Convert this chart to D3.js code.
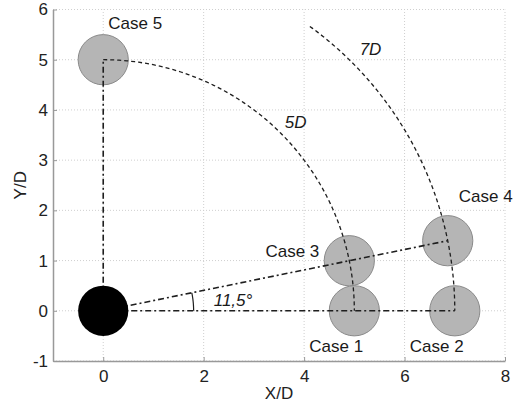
<!DOCTYPE html>
<html><head><meta charset="utf-8">
<script src="https://cdn.jsdelivr.net/npm/d3@7/dist/d3.min.js"></script>
<style>
html,body{margin:0;padding:0;background:#fff;}
text{font-family:"Liberation Sans",Arial,sans-serif;}
</style></head>
<body><svg id="c" width="516" height="406"></svg>
<script>
// ---- data ----
const xDomain = [-1, 8];
const yDomain = [-1, 6];
const xTicks = [0, 2, 4, 6, 8];
const yTicks = [-1, 0, 1, 2, 3, 4, 5, 6];
const angleDeg = 11.5;
const caseNames = ["Case 1", "Case 2", "Case 3", "Case 4", "Case 5"];
const caseR = [5, 7, 5, 7, 5];          // distance in D
const caseAngle = [0, 0, 11.5, 11.5, 90]; // degrees
const arcRadii = [5, 7];
const arcStartDeg = [90, 54];
const arcLabels = ["5D", "7D"];
const diameter = 1;

// ---- layout ----
const svg = d3.select("#c");
const x = d3.scaleLinear().domain(xDomain).range([53, 505]);
const y = d3.scaleLinear().domain(yDomain).range([361, 9.5]);
const rad = d => d * Math.PI / 180;
const px = (r, a) => x(r * Math.cos(rad(a)));
const py = (r, a) => y(r * Math.sin(rad(a)));

// grid
const g = svg.append("g");
g.selectAll(".gx").data(xTicks).join("line")
  .attr("x1", d => x(d)).attr("x2", d => x(d)).attr("y1", y(yDomain[0])).attr("y2", y(yDomain[1]))
  .attr("stroke", "#cfcfcf").attr("stroke-width", 1).attr("stroke-dasharray", "1,2");
g.selectAll(".gy").data(yTicks).join("line")
  .attr("y1", d => y(d)).attr("y2", d => y(d)).attr("x1", x(xDomain[0])).attr("x2", x(xDomain[1]))
  .attr("stroke", "#cfcfcf").attr("stroke-width", 1).attr("stroke-dasharray", "1,2");

// axes
const axCol = "#999";
const fmt = d => String(d);
const xAxis = svg.append("g").attr("transform", `translate(0,${y(yDomain[0])})`)
  .call(d3.axisBottom(x).tickValues(xTicks).tickFormat(fmt).tickSizeInner(-4).tickSizeOuter(0).tickPadding(9));
const yAxis = svg.append("g").attr("transform", `translate(${x(xDomain[0])},0)`)
  .call(d3.axisLeft(y).tickValues(yTicks).tickFormat(fmt).tickSizeInner(-4).tickSizeOuter(0).tickPadding(5));
[xAxis, yAxis].forEach(a => {
  a.select(".domain").attr("stroke", axCol).attr("stroke-width", 1.5);
  a.selectAll(".tick line").attr("stroke", axCol);
  a.selectAll(".tick text").attr("fill", "#222").style("font-size", "17px")
   .style("font-family", "'Liberation Sans',Arial,sans-serif");
});
svg.append("text").attr("x", x(3.5)).attr("y", 399).attr("text-anchor", "middle")
  .attr("fill", "#222").style("font-size", "17px").text("X/D");
svg.append("text").attr("transform", `translate(26,${(y(yDomain[0]) + y(yDomain[1])) / 2}) rotate(-90)`)
  .attr("text-anchor", "middle").attr("fill", "#222").style("font-size", "17px").text("Y/D");

// circles
const cases = caseNames.map((n, i) => ({ name: n, r: caseR[i], a: caseAngle[i] }));
const cr = x(diameter / 2) - x(0);
svg.selectAll(".case").data(cases).join("circle")
  .attr("cx", d => px(d.r, d.a)).attr("cy", d => py(d.r, d.a)).attr("r", cr)
  .attr("fill", "#b5b5b5").attr("stroke", "#8a8a8a").attr("stroke-width", 1);

// lines
const lineCol = "#1e1e1e";
const dashDot = "6,3,2,3";
const radial = [
  { r: 7, a: 0 }, { r: 7, a: angleDeg }, { r: 5, a: 90 }
];
svg.selectAll(".rad").data(radial).join("line")
  .attr("x1", x(0)).attr("y1", y(0))
  .attr("x2", d => px(d.r, d.a)).attr("y2", d => py(d.r, d.a))
  .attr("stroke", lineCol).attr("stroke-width", 1.6).attr("stroke-dasharray", dashDot);

// arcs
const arcs = arcRadii.map((r, i) => ({ r, start: arcStartDeg[i] }));
const lg = d3.line().x(p => px(p[0], p[1])).y(p => py(p[0], p[1]));
svg.selectAll(".arc").data(arcs).join("path")
  .attr("d", d => lg(d3.range(0, 101).map(k => [d.r, d.start * (1 - k / 100)])))
  .attr("fill", "none").attr("stroke", lineCol).attr("stroke-width", 1.3).attr("stroke-dasharray", "4,3");

// source body (on top)
svg.append("circle").attr("cx", x(0)).attr("cy", y(0)).attr("r", cr).attr("fill", "#000");

// angle marker
const am = 1.8;
svg.append("path")
  .attr("d", lg(d3.range(0, 21).map(k => [am, angleDeg * k / 20])))
  .attr("fill", "none").attr("stroke", lineCol).attr("stroke-width", 1.2);

// labels
const lbl = (t, xx, yy, anchor, italic) => svg.append("text").attr("x", xx).attr("y", yy)
  .attr("text-anchor", anchor || "start").attr("fill", "#1a1a1a").style("font-size", "17px")
  .style("font-style", italic ? "italic" : "normal").text(t);
const lblOff = { "Case 1": [-45, 41, "start"], "Case 2": [-45, 41, "start"], "Case 3": [-30, -4, "end"],
  "Case 4": [11, -39, "start"], "Case 5": [5, -31, "start"] };
cases.forEach(d => {
  const o = lblOff[d.name];
  lbl(d.name, px(d.r, d.a) + o[0], py(d.r, d.a) + o[1], o[2]);
});
lbl(arcLabels[0], px(5, 52) + 27, py(5, 52) + 15, "start", true);
lbl(arcLabels[1], px(7, 52) + 40, py(7, 52) + 21, "start", true);
lbl(angleDeg.toString().replace(".", ",") + "°", x(2.2), y(0) - 5, "start", true);
</script></body></html>
